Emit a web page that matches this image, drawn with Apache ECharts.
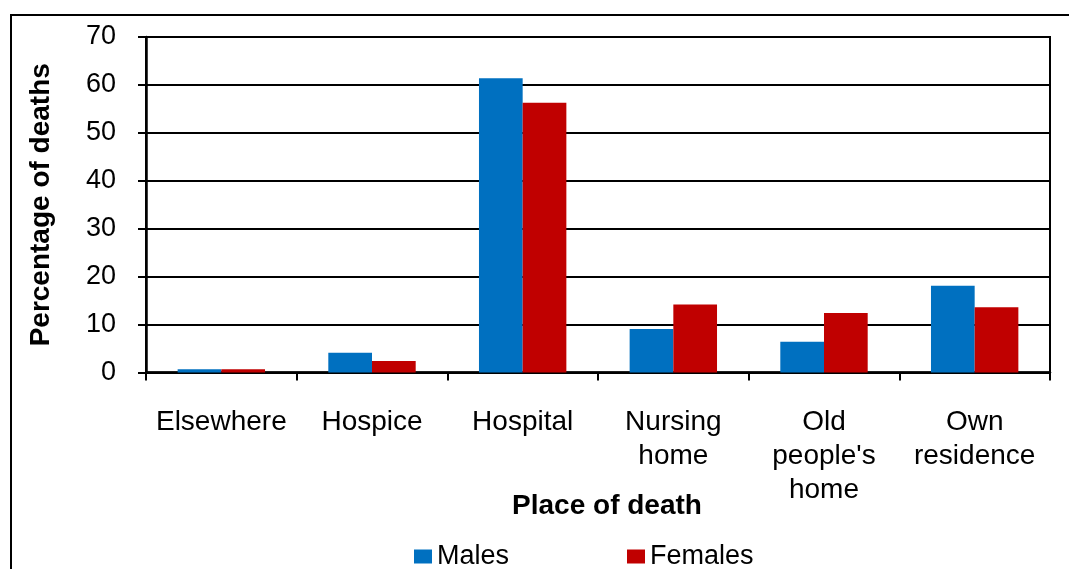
<!DOCTYPE html>
<html>
<head>
<meta charset="utf-8">
<script src="https://cdn.jsdelivr.net/npm/echarts@6/dist/echarts.min.js"></script>
<style>
  html, body { margin: 0; padding: 0; background: #fff; }
  #chart { width: 1069px; height: 569px; }
</style>
</head>
<body>
<div id="chart"></div>
<script>
// place of death, percentage of deaths by sex
var places = ['Elsewhere', 'Hospice', 'Hospital', 'Nursing\nhome', 'Old\npeople\'s\nhome', 'Own\nresidence'];
var males = [0.7, 4.1, 61.4, 9.1, 6.4, 18.1];
var females = [0.7, 2.4, 56.3, 14.2, 12.4, 13.6];
var yTicks = [0, 10, 20, 30, 40, 50, 60, 70];

var font = 'Liberation Sans, Arial, sans-serif';
var chart = echarts.init(document.getElementById('chart'), null, { renderer: 'canvas' });

chart.setOption({
  animation: false,
  backgroundColor: '#fff',
  textStyle: { fontFamily: font, color: '#000' },
  graphic: [{
    type: 'rect',
    shape: { x: 11, y: 15, width: 1080, height: 600 },
    style: { fill: 'none', stroke: '#000', lineWidth: 2 },
    silent: true
  }],
  grid: {
    left: 146, right: 19, top: 37, bottom: 196.5,
    show: true, borderColor: '#000', borderWidth: 2, backgroundColor: 'transparent'
  },
  legend: {
    left: 409, top: 538,
    itemWidth: 18, itemHeight: 14, itemGap: 118,
    icon: 'rect',
    textStyle: { fontSize: 27, fontFamily: font, color: '#000' },
    data: ['Males', 'Females']
  },
  xAxis: {
    type: 'category',
    data: places,
    name: 'Place of death',
    nameLocation: 'middle',
    nameGap: 120,
    nameMoveOverlap: false,
    nameTextStyle: { fontSize: 28, fontWeight: 'bold', color: '#000', fontFamily: font, padding: [0, 0, 0, 18] },
    axisLine: { lineStyle: { color: '#000', width: 2.5 } },
    axisTick: { show: true, length: 8, lineStyle: { color: '#000', width: 2 } },
    axisLabel: {
      interval: 0, margin: 33, fontSize: 28, lineHeight: 34,
      color: '#000', fontFamily: font
    }
  },
  yAxis: {
    type: 'value',
    min: yTicks[0], max: yTicks[yTicks.length - 1], interval: 10,
    name: 'Percentage of deaths',
    nameLocation: 'middle',
    nameRotate: 90,
    nameGap: 91,
    nameTextStyle: { fontSize: 28, fontWeight: 'bold', color: '#000', fontFamily: font },
    axisLine: { show: true, lineStyle: { color: '#000', width: 2.5 } },
    axisTick: { show: true, length: 8, lineStyle: { color: '#000', width: 2 } },
    axisLabel: { margin: 30, fontSize: 27, color: '#000', fontFamily: font },
    splitLine: { show: true, lineStyle: { color: '#000', width: 2 } }
  },
  series: [
    {
      name: 'Males', type: 'bar', data: males,
      itemStyle: { color: '#0070C0' },
      barGap: '0%', barCategoryGap: '42%'
    },
    {
      name: 'Females', type: 'bar', data: females,
      itemStyle: { color: '#C00000' },
      barGap: '0%', barCategoryGap: '42%'
    }
  ]
});
</script>
</body>
</html>
